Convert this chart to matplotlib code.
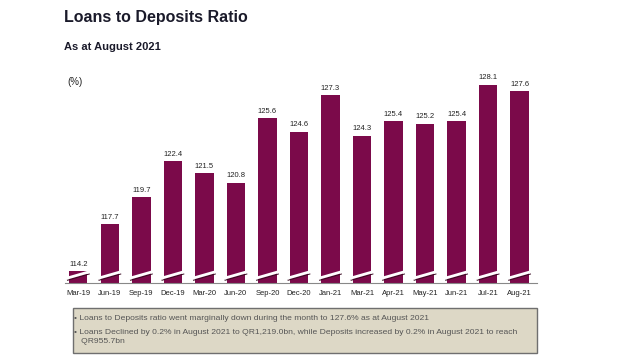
import matplotlib
matplotlib.use("Agg")
import matplotlib.pyplot as plt
import matplotlib.transforms as mtransforms
from matplotlib.patches import FancyBboxPatch
import numpy as np

months = ["Mar-19", "Jun-19", "Sep-19", "Dec-19", "Mar-20", "Jun-20", "Sep-20",
          "Dec-20", "Jan-21", "Mar-21", "Apr-21", "May-21", "Jun-21", "Jul-21", "Aug-21"]
ratio = [114.2, 117.7, 119.7, 122.4, 121.5, 120.8, 125.6,
         124.6, 127.3, 124.3, 125.4, 125.2, 125.4, 128.1, 127.6]

notes = [
    "\u2022 Loans to Deposits ratio went marginally down during the month to 127.6% as at August 2021",
    "\u2022 Loans Declined by 0.2% in August 2021 to QR1,219.0bn, while Deposits increased by 0.2% in August 2021 to reach\n   QR955.7bn",
]

BAR = "#7b0a4a"
plt.rcParams["font.family"] = ["Liberation Sans", "DejaVu Sans"]

fig = plt.figure(figsize=(6.2, 3.55), dpi=100)
ax = fig.add_axes([0.105, 0.203, 0.761, 0.611])

x = np.arange(len(months))
width = 0.58
base = 113.3
ax.bar(x, [v - base for v in ratio], bottom=base, width=width, color=BAR, zorder=2)
for xi, v in zip(x, ratio):
    ax.text(xi, v + 0.25, f"{v:.1f}", ha="center", va="bottom", fontsize=5.5, color="#222222")

# axis-break slashes across each bar
trans = mtransforms.blended_transform_factory(ax.transData, ax.transAxes)
for xi in x:
    xs = [xi - width / 2 - 0.07, xi + width / 2 + 0.07]
    ax.plot(xs, [0.012, 0.042], transform=trans, color="#3a0a22", lw=0.8, zorder=3,
            solid_capstyle="butt")
    ax.plot(xs, [0.022, 0.052], transform=trans, color="white", lw=2.0, zorder=4,
            solid_capstyle="butt")

ax.set_xlim(-0.42, len(months) - 0.45)
ax.set_ylim(base, 129.5)
ax.set_xticks(x)
ax.set_xticklabels(months, fontsize=5.5, color="#222222")
ax.tick_params(axis="x", length=0, pad=5)
ax.set_yticks([])
for s in ["top", "right", "left"]:
    ax.spines[s].set_visible(False)
ax.spines["bottom"].set_color("#888888")
ax.spines["bottom"].set_linewidth(0.8)

fig.text(0.103, 0.952, "Loans to Deposits Ratio", fontsize=11.5, fontweight="bold",
         color="#1a1a2a", va="center")
fig.text(0.103, 0.868, "As at August 2021", fontsize=8, fontweight="bold",
         color="#1a1a2a", va="center")
fig.text(0.108, 0.768, "(%)", fontsize=7, color="#222222", va="center")

# notes box
box = FancyBboxPatch((0.117, 0.007), 0.749, 0.125, boxstyle="square,pad=0",
                     transform=fig.transFigure, facecolor="#ddd8c6",
                     edgecolor="#6f6f6f", linewidth=1.0)
fig.patches.append(box)
fig.text(0.119, 0.104, notes[0], fontsize=6.1, color="#555555", va="center")
fig.text(0.119, 0.051, notes[1], fontsize=6.1, color="#555555", va="center",
         linespacing=1.45)

fig.savefig("out.png", dpi=100)
